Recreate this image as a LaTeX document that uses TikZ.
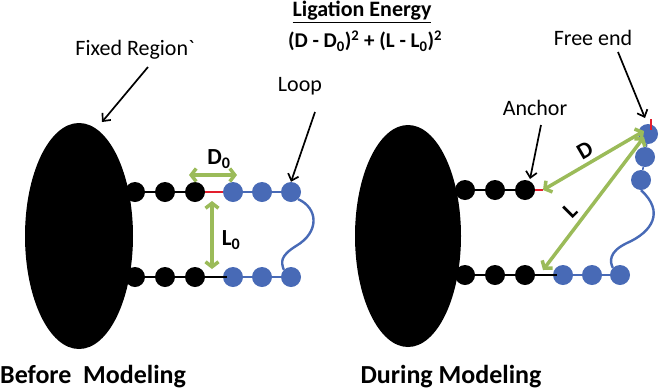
\documentclass[tikz,border=0pt]{standalone}
\usepackage{fontspec}
\setmainfont{Carlito}
\usetikzlibrary{arrows.meta,shapes.geometric}
\definecolor{dotblue}{RGB}{72,106,182}
\definecolor{lgreen}{RGB}{155,187,89}
\definecolor{lred}{RGB}{226,30,45}
\begin{document}
\begin{tikzpicture}[x=1pt,y=-1pt,
  bdot/.style={circle,fill=black,inner sep=0,minimum size=20pt},
  udot/.style={circle,fill=dotblue,inner sep=0,minimum size=20pt},
  blob/.style={ellipse,fill=black,inner sep=0,minimum width=108pt,minimum height=226pt},
  lbl/.style={font=\fontsize{22}{26}\selectfont,inner sep=0},
  blbl/.style={font=\fontsize{23}{27}\selectfont\bfseries,inner sep=0},
  big/.style={font=\fontsize{26}{30}\selectfont\bfseries,inner sep=0},
  ptr/.style={-{Straight Barb[length=6pt,width=11pt]},line width=1.7pt},
  meas/.style={{Straight Barb[length=5pt,width=13pt]}-{Straight Barb[length=5pt,width=13pt]},line width=3.5pt,lgreen},
  bline/.style={line width=1.8pt},
  uline/.style={dotblue,line width=1.6pt},
  ucurve/.style={dotblue,line width=2.4pt},
  rline/.style={lred,line width=2.8pt}
  ]
\useasboundingbox (0,0) rectangle (666,389);

% titles
\node[font=\fontsize{22}{26}\selectfont\bfseries,inner sep=0] (title) at (362,12) {\underline{Ligation Energy}};
\node[font=\fontsize{21}{25}\selectfont\bfseries,inner sep=0] (formula) at (365,41) {(D - D\textsubscript{0})\textsuperscript{2} + (L - L\textsubscript{0})\textsuperscript{2}};

% ---------------- left: before modeling
\node[blob] (elL) at (79,236) {};
\coordinate (Ltstart) at (100,192);
\coordinate (Lbstart) at (100,277);
\draw[bline] (Ltstart) -- (160,192);
\draw[bline] (Lbstart) -- (160,277);
\node[bdot] (Ltb1) at (135,192) {};
\node[bdot] (Ltb2) at (165,192) {};
\node[bdot] (Ltb3) at (195,192) {};
\node[udot] (Ltu1) at (233,192) {};
\node[udot] (Ltu2) at (262,192) {};
\node[udot] (Ltu3) at (291,192) {};
\node[bdot] (Lbb1) at (135,277) {};
\node[bdot] (Lbb2) at (165,277) {};
\node[bdot] (Lbb3) at (195,277) {};
\node[udot] (Lbu1) at (233,277) {};
\node[udot] (Lbu2) at (262,277) {};
\node[udot] (Lbu3) at (291,277) {};
\draw[bline] (Ltb1) -- (Ltb2) -- (Ltb3);
\draw[bline] (Lbb1) -- (Lbb2) -- (Lbb3);
\draw[bline] (Lbb3.east) -- ([xshift=4pt]Lbu1.west);
\draw[rline] (Ltb3.east) -- (Ltu1.west);
\draw[uline] (Ltu1.east) -- (Ltu2.west);
\draw[uline] (Ltu2.east) -- (Ltu3.west);
\draw[uline] (Lbu1.east) -- (Lbu2.west);
\draw[uline] (Lbu2.east) -- (Lbu3.west);
\draw[ucurve] (Ltu3.south east) .. controls (318,208) and (320,232) .. (296,246) .. controls (280,256) and (281,262) .. (Lbu3.north west);

\coordinate (d0a) at (189,175);
\coordinate (d0b) at (237,175);
\draw[meas] (d0a) -- (d0b);
\node[blbl] (D0) at (219,159) {D\textsubscript{0}};
\coordinate (l0a) at (212,201);
\coordinate (l0b) at (212,269);
\draw[meas] (l0a) -- (l0b);
\node[blbl] (L0) at (231,240) {L\textsubscript{0}};

\node[lbl] (fixed) at (135,50) {Fixed Region{\addfontfeatures{Ligatures=TeXOff}`}};
\coordinate (fixtail) at (148,67);
\coordinate (fixtip) at (102,122);
\draw[ptr] (fixtail) -- (fixtip);
\node[lbl] (loop) at (300,86) {Loop};
\coordinate (looptail) at (315,112);
\draw[ptr] (looptail) -- (Ltu3.north);

\node[big,anchor=west] (before) at (0,377) {Before\hspace{0.45em}Modeling};

% ---------------- right: during modeling
\node[blob,minimum width=106pt,minimum height=222pt] (elR) at (408,236) {};
\coordinate (Rtstart) at (430,190);
\coordinate (Rbstart) at (430,275);
\draw[bline] (Rtstart) -- (470,190);
\draw[bline] (Rbstart) -- (470,275);
\node[bdot] (Rtb1) at (465,190) {};
\node[bdot] (Rtb2) at (495,190) {};
\node[bdot] (Rtb3) at (525,190) {};
\node[bdot] (Rbb1) at (465,275) {};
\node[bdot] (Rbb2) at (495,275) {};
\node[bdot] (Rbb3) at (525,275) {};
\node[udot] (Rbu1) at (563,275) {};
\node[udot] (Rbu2) at (592,275) {};
\node[udot] (Rbu3) at (620,275) {};
\node[udot] (F1) at (648,134) {};
\node[udot] (F2) at (645,157) {};
\node[udot] (F3) at (641,180) {};
\draw[bline] (Rtb1) -- (Rtb2) -- (Rtb3);
\draw[bline] (Rbb1) -- (Rbb2) -- (Rbb3);
\draw[bline] (Rbb3.east) -- ([xshift=4pt]Rbu1.west);
\coordinate (anc) at (543,190);
\draw[rline] (Rtb3.east) -- (anc);
\draw[uline] (Rbu1.east) -- (Rbu2.west);
\draw[uline] (Rbu2.east) -- (Rbu3.west);
\draw[uline] (F1) -- (F2) -- (F3);
\draw[ucurve] (F3.south) .. controls (665,212) and (652,232) .. (627,243) .. controls (608,252) and (610,262) .. (Rbu3.north west);
\coordinate (tickA) at (651,119);
\coordinate (tickB) at (651,130);
\draw[rline] (tickA) -- (tickB);

\coordinate (feD) at (644,131);
\coordinate (feL) at (644,137);
\coordinate (lend) at (543,270);
\draw[meas] (anc) -- (feD);
\draw[meas] (lend) -- (feL);
\node[blbl,rotate=30] (Dl) at (585,150) {D};
\node[blbl,rotate=45] (Ll) at (570,211) {L};

\node[lbl] (anchor) at (535,108) {Anchor};
\coordinate (anctail) at (541,125);
\coordinate (anctip) at (530,179);
\draw[ptr] (anctail) -- (anctip);
\node[lbl] (free) at (593,38) {Free end};
\coordinate (freetail) at (618,52);
\coordinate (freetip) at (645,118);
\draw[ptr] (freetail) -- (freetip);

\node[big] (during) at (451,377) {During Modeling};
\end{tikzpicture}
\end{document}
